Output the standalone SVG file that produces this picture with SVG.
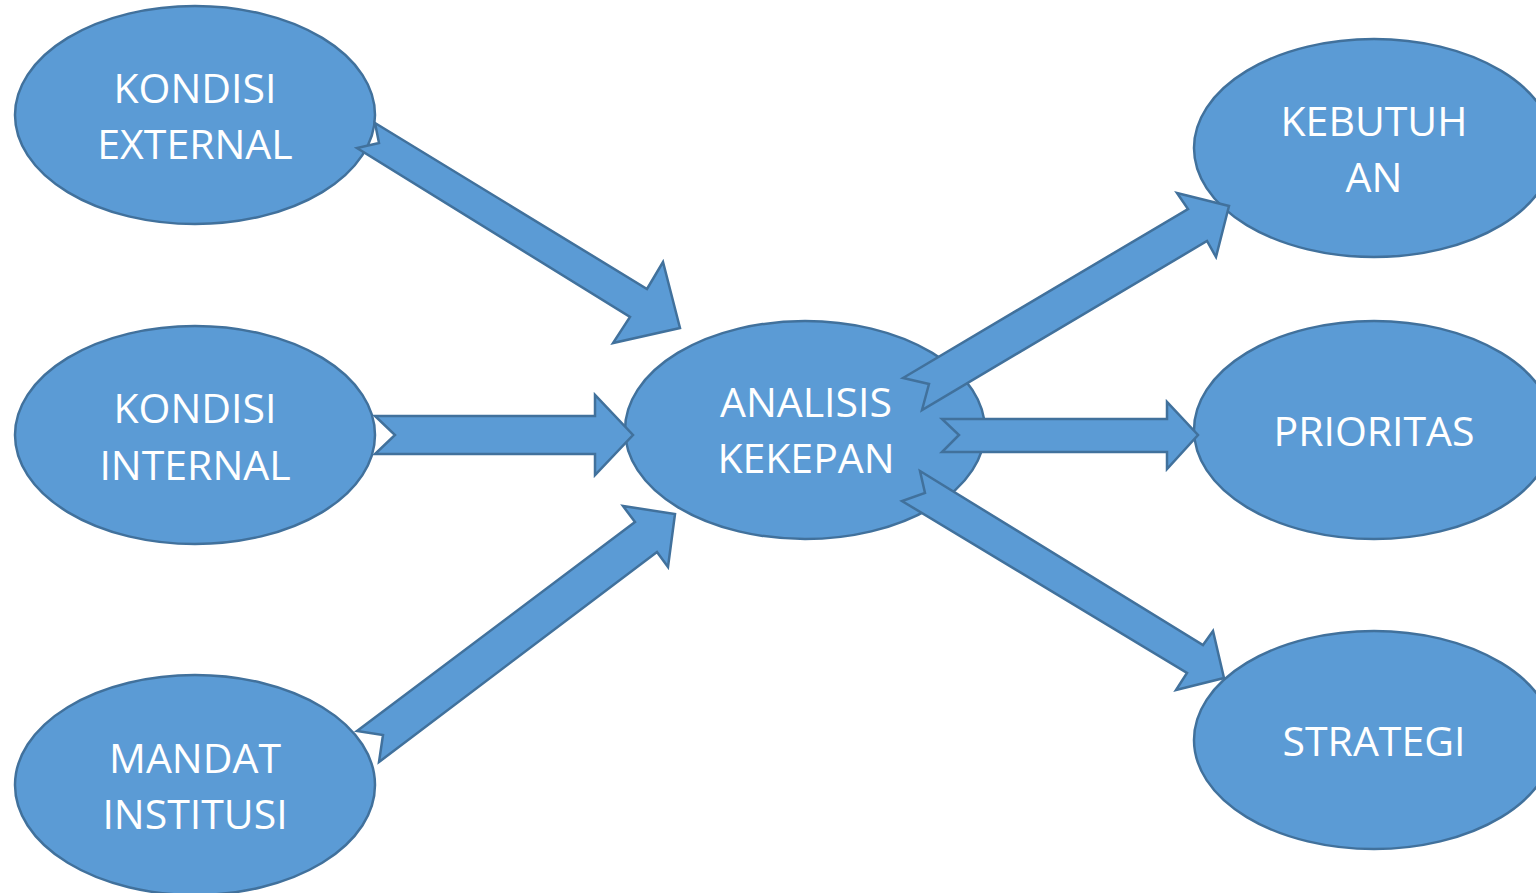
<svg xmlns="http://www.w3.org/2000/svg" width="1536" height="893" viewBox="0 0 1536 893">
<style>
.node ellipse{fill:#5B9BD5;stroke:#41719C;stroke-width:2.5}
.node text{fill:#FFFFFF;font-family:"Open Sans","Liberation Sans",sans-serif;font-size:41px;text-anchor:middle}
.arrow{fill:#5B9BD5;stroke:#41719C;stroke-width:2.5;stroke-linejoin:miter}
</style>
<rect width="1536" height="893" fill="#FFFFFF"/>
<g id="n-external" class="node"><ellipse cx="195" cy="115" rx="180" ry="109"/><text x="195" y="103">KONDISI</text><text x="195" y="159">EXTERNAL</text></g>
<g id="n-internal" class="node"><ellipse cx="195" cy="435" rx="180" ry="109"/><text x="195" y="423">KONDISI</text><text x="195" y="480">INTERNAL</text></g>
<g id="n-mandat" class="node"><ellipse cx="195" cy="785" rx="180" ry="110"/><text x="195" y="773">MANDAT</text><text x="195" y="829">INSTITUSI</text></g>
<g id="n-analisis" class="node"><ellipse cx="805" cy="430" rx="180" ry="109"/><text x="806" y="417">ANALISIS</text><text x="806" y="473">KEKEPAN</text></g>
<g id="n-kebutuhan" class="node"><ellipse cx="1374" cy="148" rx="180" ry="109"/><text x="1374" y="136">KEBUTUH</text><text x="1374" y="192">AN</text></g>
<g id="n-prioritas" class="node"><ellipse cx="1374" cy="430" rx="180" ry="109"/><text x="1374" y="446">PRIORITAS</text></g>
<g id="n-strategi" class="node"><ellipse cx="1374" cy="740" rx="180" ry="109"/><text x="1374" y="756">STRATEGI</text></g>
<g id="connectors">
<polygon class="arrow" points="375,123 647,289 663,262 680,328 613,343 630,317 357,148 379,143"/>
<polygon class="arrow" points="375,416 595,416 595,395 633,435 595,475 595,454 375,454 395,435"/>
<polygon class="arrow" points="357,731 635,522 623,506 675,514 668,567 657,552 379,762 383,735"/>
<polygon class="arrow" points="903,378 1188,209 1177,193 1229,206 1216,257 1207,241 922,410 929,384"/>
<polygon class="arrow" points="942,419 1167,419 1167,402 1198,435 1167,469 1167,452 942,452 959,435"/>
<polygon class="arrow" points="920,471 1203,645 1213,631 1224,678 1176,690 1187,673 902,501 925,493"/>
</g>
</svg>
